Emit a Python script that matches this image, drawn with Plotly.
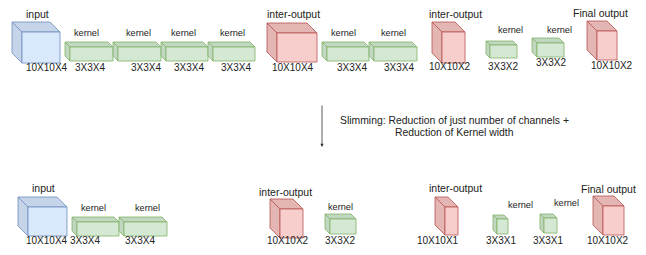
import plotly.graph_objects as go

# ---- diagram content ----
names = ["input", "kernel", "kernel", "kernel", "kernel", "inter-output", "kernel", "kernel",
         "inter-output", "kernel", "kernel", "Final output",
         "input", "kernel", "kernel", "inter-output", "kernel",
         "inter-output", "kernel", "kernel", "Final output"]
dims = ["10X10X4", "3X3X4", "3X3X4", "3X3X4", "3X3X4", "10X10X4", "3X3X4", "3X3X4",
        "10X10X2", "3X3X2", "3X3X2", "10X10X2",
        "10X10X4", "3X3X4", "3X3X4", "10X10X2", "3X3X2",
        "10X10X1", "3X3X1", "3X3X1", "10X10X2"]
kinds = ["in", "k", "k", "k", "k", "out", "k", "k", "out", "k", "k", "out",
         "in", "k", "k", "out", "k", "out", "k", "k", "out"]
caption = ["Slimming: Reduction of just number of channels +", "Reduction of Kernel width"]

# ---- layout geometry (pixels) : front face x0,y0,x1,y1, depth ----
fronts = [(22, 32, 60, 63, 10), (70, 47, 113, 61, 5), (118, 47, 161, 61, 5), (166, 47, 208, 61, 5),
          (213, 47, 255, 61, 5), (277, 33, 317, 62, 10), (327, 47, 369, 61, 5), (374, 47, 417, 61, 5),
          (442, 32, 465, 63, 10), (490, 45, 517, 58, 4), (537, 43, 564, 57, 5), (597, 31, 617, 60, 10),
          (28, 207, 67, 236, 10), (77, 222, 119, 236, 5), (124, 222, 167, 236, 5),
          (280, 209, 303, 238, 10), (330, 219, 356, 234, 5),
          (445, 207, 458, 235, 10), (497, 219, 508, 234, 4), (544, 218, 557, 233, 4),
          (603, 206, 624, 235, 10)]
name_pos = [(37, 14), (86, 33), (138, 33), (183, 33), (232, 33), (293, 14), (343, 33), (393, 33),
            (455, 14), (510, 30), (559, 30), (600, 13),
            (43, 188), (93, 208), (147, 208), (285, 192), (340, 207),
            (455, 188), (520, 205), (566, 203), (608, 189)]
dim_pos = [(47, 67), (90, 67), (146, 67), (189, 67), (236, 67), (293, 67), (352, 67), (399, 67),
           (450, 66), (503, 66), (551, 62), (612, 65),
           (47, 240.5), (85, 240.5), (140, 240.5), (288, 240.5), (340, 240.5),
           (438, 240.5), (501, 240.5), (548, 240.5), (608, 240.5)]

styles = {
    "in": dict(front="#dae8fc", dark="#c6d4ea", line="#6c8ebf"),
    "k": dict(front="#d5e8d4", dark="#c2d7c1", line="#82b366"),
    "out": dict(front="#f8cecc", dark="#e3b5b3", line="#b85450"),
}

FONT = "Liberation Sans, Arial, Helvetica, sans-serif"
PAGE_MARGIN = 8  # default body margin of the html page

fig = go.Figure()
shapes = []
for (x0, y0, x1, y1, d), kind in zip(fronts, kinds):
    st = styles[kind]
    lw = 0.8
    top = f"M {x0-d},{y0-d} L {x1-d},{y0-d} L {x1},{y0} L {x0},{y0} Z"
    left = f"M {x0-d},{y0-d} L {x0},{y0} L {x0},{y1} L {x0-d},{y1-d} Z"
    front = f"M {x0},{y0} L {x1},{y0} L {x1},{y1} L {x0},{y1} Z"
    for p, col in ((top, st["dark"]), (left, st["dark"]), (front, st["front"])):
        shapes.append(dict(type="path", path=p, xref="x", yref="y", fillcolor=col,
                           line=dict(color=st["line"], width=lw), layer="above"))

annotations = []
for n, (x, y), k in zip(names, name_pos, kinds):
    annotations.append(dict(x=x, y=y, text=n, showarrow=False, xref="x", yref="y",
                            font=dict(family=FONT, size=9.2 if k == "k" else 10.5, color="#222")))
for t, (x, y) in zip(dims, dim_pos):
    annotations.append(dict(x=x, y=y, text=t, showarrow=False, xref="x", yref="y",
                            font=dict(family=FONT, size=10, color="#222")))

# arrow
annotations.append(dict(x=322, y=147, ax=322, ay=104, axref="x", ayref="y", xref="x", yref="y",
                        text="", showarrow=True, arrowhead=2, arrowsize=0.8, arrowwidth=0.8,
                        arrowcolor="#333"))
for line, y in zip(caption, (120, 132)):
    annotations.append(dict(x=454, y=y, text=line, showarrow=False, xref="x", yref="y",
                            font=dict(family=FONT, size=10.4, color="#222")))

W, H = 646, 255
fig.update_layout(
    width=W - 2 * PAGE_MARGIN, height=H - 2 * PAGE_MARGIN, margin=dict(l=0, r=0, t=0, b=0),
    paper_bgcolor="white", plot_bgcolor="white",
    xaxis=dict(range=[PAGE_MARGIN, W - PAGE_MARGIN], visible=False, fixedrange=True),
    yaxis=dict(range=[H - PAGE_MARGIN, PAGE_MARGIN], visible=False, fixedrange=True),
    shapes=shapes, annotations=annotations, showlegend=False,
)
fig.write_html("out.html")
